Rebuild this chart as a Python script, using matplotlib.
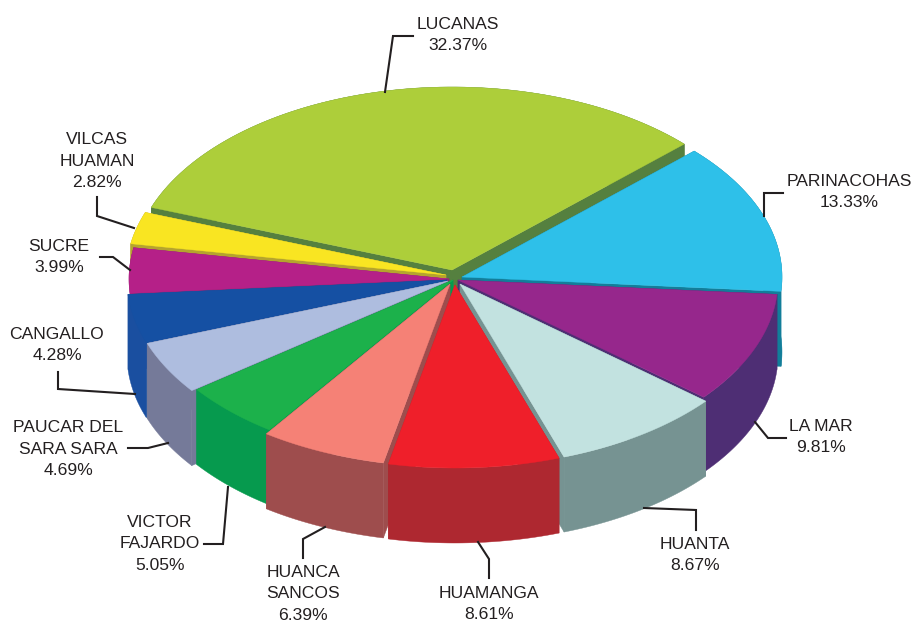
import numpy as np
import matplotlib
matplotlib.use("Agg")
import matplotlib.pyplot as plt
from matplotlib.patches import Polygon

plt.rcParams['font.family'] = ['Liberation Sans', 'DejaVu Sans']

# ---- data (clockwise order from the first slice) ----
labels = ["LUCANAS", "PARINACOHAS", "LA MAR", "HUANTA", "HUAMANGA",
          "HUANCA\nSANCOS", "VICTOR\nFAJARDO", "PAUCAR DEL\nSARA SARA",
          "CANGALLO", "SUCRE", "VILCAS\nHUAMAN"]
values = [32.37, 13.33, 9.81, 8.67, 8.61, 6.39, 5.05, 4.69, 4.28, 3.99, 2.82]

# ---- styles / layout ----
top_colors = ["#ADCE3A", "#2EC0E9", "#96278C", "#C2E2E0", "#EF1F2A", "#F58176",
              "#1CB14B", "#AEBDDF", "#1550A3", "#B52088", "#F9E522"]
side_colors = ["#55803F", "#127E9A", "#4E2E74", "#769392", "#AE2830", "#9E4D4D",
               "#069A4E", "#757A99", "#1A4FA0", "#8A2A70", "#B5A42E"]
apex = [(452, 270), (462, 277), (458, 280), (460, 284), (455, 285), (450, 284),
        (453, 280), (448, 281), (447, 280), (449, 279), (446, 275)]
draw_order = [0, 10, 9, 1, 8, 2, 7, 3, 6, 5, 4]
start_angle = 160.0
rx, ry, depth = 320, 183, 75

label_xy = [(458, 35), (849, 192), (821, 437), (695, 555), (489, 604),
            (303, 594), (160, 544), (68, 449), (57, 345), (59, 257), (97, 161)]
leaders = [
    [(385, 92), (393, 36), (413, 36)],
    [(764, 216), (764, 193), (783, 193)],
    [(755, 422), (768, 438), (786, 438)],
    [(644, 508), (696, 510), (696, 530)],
    [(478, 542), (489, 559), (489, 578)],
    [(325, 527), (303, 539), (303, 558)],
    [(228, 487), (223, 544), (204, 544)],
    [(168, 443), (148, 448), (128, 448)],
    [(135, 394), (58, 389), (58, 372)],
    [(130, 270), (113, 257), (100, 257)],
    [(134, 228), (97, 216), (97, 197)],
]

fig = plt.figure(figsize=(9.13, 6.23), dpi=100)
ax = fig.add_axes([0, 0, 1, 1])
ax.set_xlim(0, 913)
ax.set_ylim(623, 0)
ax.axis("off")

# angular extent of each slice, from its share of the total
sweeps = 360 * np.array(values) / np.sum(values)
ends = start_angle - np.cumsum(sweeps)
starts = ends + sweeps


def arc(cx, cy, a0, a1, n=80):
    t = np.radians(np.linspace(a0, a1, n))
    return np.column_stack([cx + rx * np.cos(t), cy - ry * np.sin(t)])


for z, i in enumerate(draw_order):
    cx, cy = apex[i]
    pts = arc(cx, cy, starts[i], ends[i])
    low = pts + [0, depth]
    a = np.array([[cx, cy]])
    alow = a + [0, depth]
    # walls: both radial faces and the outer rim
    for wall in (np.vstack([a, pts[:1], low[:1], alow]),
                 np.vstack([a, pts[-1:], low[-1:], alow]),
                 np.vstack([pts, low[::-1]])):
        ax.add_patch(Polygon(wall, closed=True, fc=side_colors[i],
                             ec=side_colors[i], lw=0.3, zorder=2 * z + 1))
    ax.add_patch(Polygon(np.vstack([a, pts]), closed=True, fc=top_colors[i],
                         ec=top_colors[i], lw=0.3, zorder=2 * z + 2))

for i, path in enumerate(leaders):
    xs, ys = zip(*path)
    ax.plot(xs, ys, color="#231F20", lw=1.5, zorder=50, solid_joinstyle="miter")
    ax.text(label_xy[i][0], label_xy[i][1], f"{labels[i]}\n{values[i]:.2f}%",
            ha="center", va="center", fontsize=12.6, color="#231F20",
            linespacing=1.55, zorder=60)

fig.savefig("out.png", dpi=100)
